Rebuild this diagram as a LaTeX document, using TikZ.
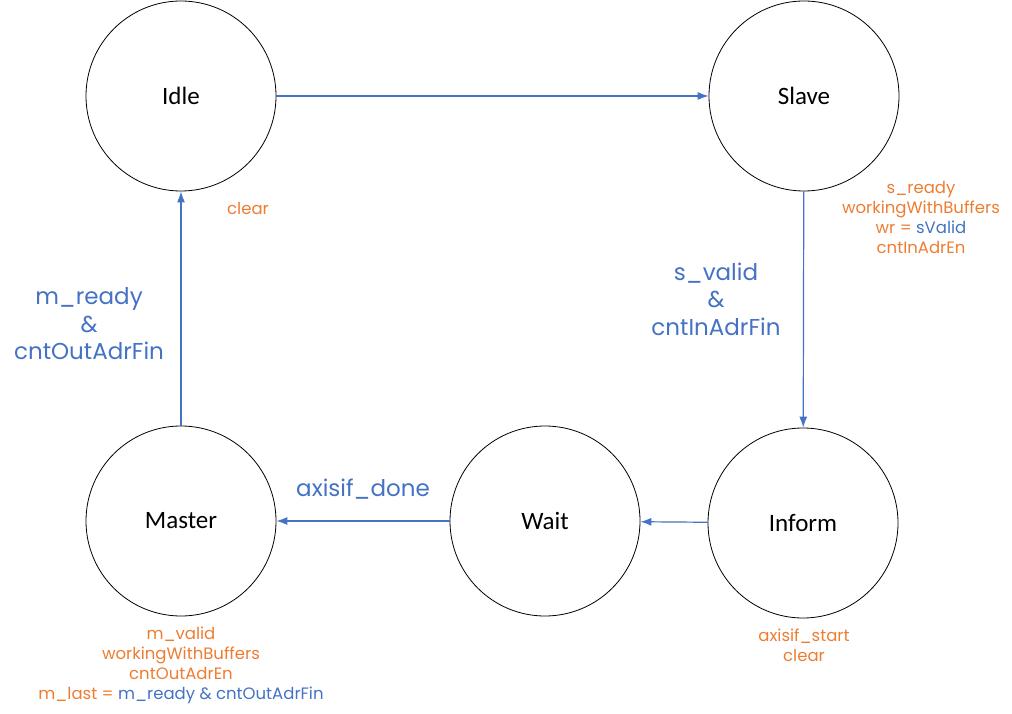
\documentclass[tikz,border=0pt]{standalone}
\usepackage{fontspec}
\setmainfont{Carlito}
\newfontfamily\notefont{Poppins}
\usetikzlibrary{arrows.meta}
\definecolor{sigblue}{RGB}{68,114,196}
\definecolor{sigorange}{RGB}{237,125,49}
\tikzset{
  state/.style={draw,circle,line width=0.8pt,minimum size=190pt,inner sep=0pt,font=\fontsize{25}{30}\selectfont},
  trans/.style={sigblue,line width=1.2pt,-{Latex[length=11pt,width=8pt]}},
  note/.style={sigorange,align=center,font=\notefont\fontsize{16.5}{20}\selectfont},
  cond/.style={sigblue,align=center,font=\notefont\fontsize{23}{27.5}\selectfont}
}
\begin{document}
\begin{tikzpicture}[x=1pt,y=-1pt]
\useasboundingbox (0,0) rectangle (1012,714);

% states
\node[state] (idle) at (181,96) {Idle};
\node[state] (slave) at (804,96) {Slave};
\node[state] (master) at (181,521) {Master};
\node[state] (wait) at (545,521) {Wait};
\node[state] (inform) at (803,523) {Inform};

% transitions
\draw[trans] (idle) -- (slave);
\draw[trans] (slave) -- (inform);
\draw[trans] (inform) -- (wait);
\draw[trans] (wait) -- (master);
\draw[trans] (master) -- (idle);

% conditions
\node[cond] (c1) at (89,324) {m\_ready\\\&\\cntOutAdrFin};
\node[cond] (c2) at (716,299) {s\_valid\\\&\\cntInAdrFin};
\node[cond] (c3) at (363,489) {axisif\_done};

% outputs
\node[note] (o1) at (248,208) {clear};
\node[note] (o2) at (921,217) {s\_ready\\workingWithBuffers\\wr = \textcolor{sigblue}{sValid}\\cntInAdrEn};
\node[note] (o3) at (804,645) {axisif\_start\\clear};
\node[note] (o4) at (181,665) {m\_valid\\workingWithBuffers\\cntOutAdrEn\\m\_last = \textcolor{sigblue}{m\_ready \& cntOutAdrFin}};

\end{tikzpicture}
\end{document}
